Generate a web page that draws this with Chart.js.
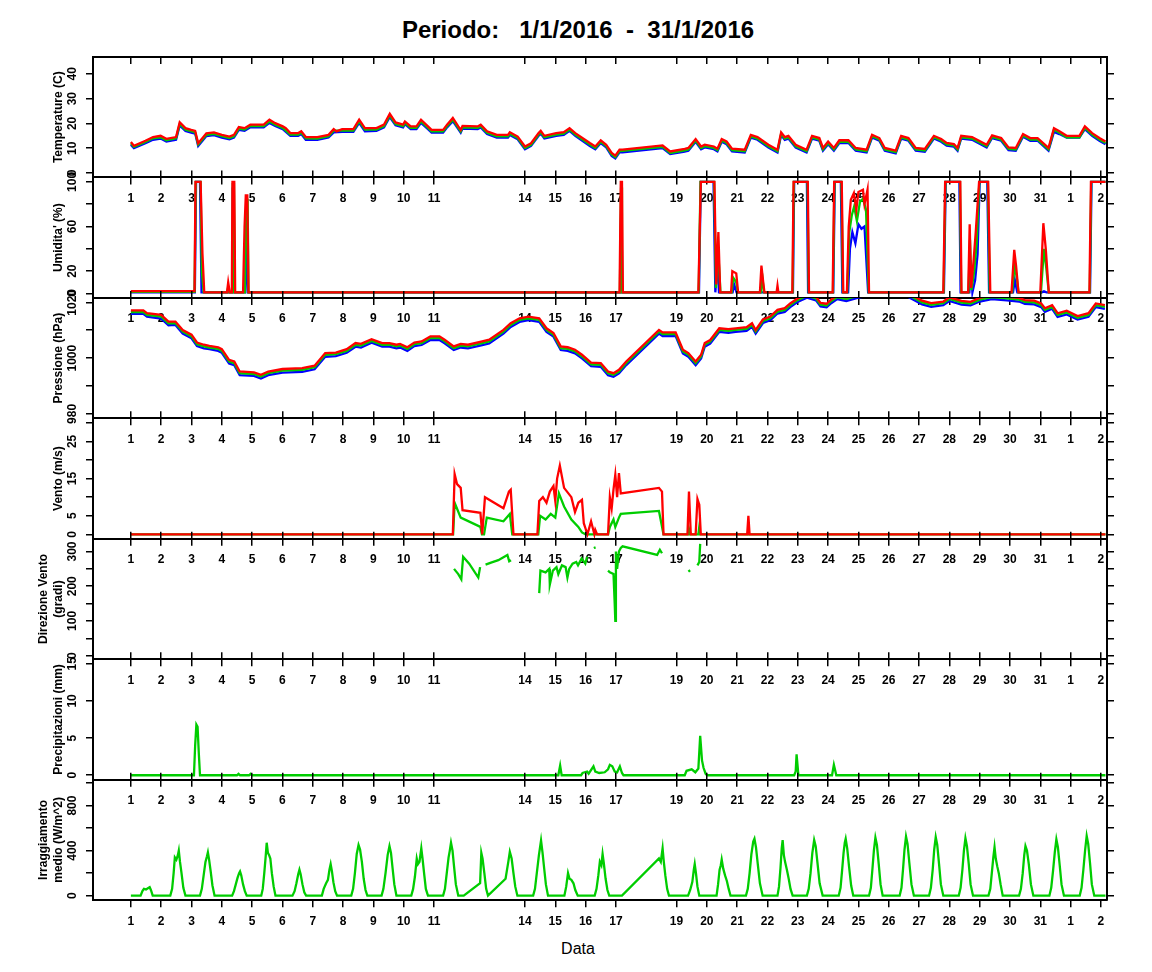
<!DOCTYPE html>
<html>
<head>
<meta charset="utf-8">
<script src="https://cdn.jsdelivr.net/npm/chart.js@4.4.1/dist/chart.umd.min.js"></script>
<style>
  html, body { margin: 0; padding: 0; background: #fff; }
  #page { position: relative; width: 1152px; height: 972px; overflow: hidden; background: #fff; }
  #page canvas { position: absolute; left: 0; }
  .txt { position: absolute; left: 0; width: 1156px; text-align: center; white-space: pre; line-height: 1;
         font-family: "Liberation Sans", Arial, Helvetica, sans-serif; color: #000; }
  #title { top: 18px; font-size: 24px; font-weight: bold; }
  #xtitle { top: 941px; font-size: 16px; }
</style>
</head>
<body>
<div id="page">
  <div id="title" class="txt">Periodo:   1/1/2016  -  31/1/2016</div>
  <div id="xtitle" class="txt">Data</div>
</div>
<script>
// =========================
//  Data (x = days since 1/1/2016 00:00)
// =========================

const dayTicks = [0,1,2,3,4,5,6,7,8,9,10,13,14,15,16,18,19,20,21,22,23,24,25,26,27,28,29,30,31,32];
const dayLabels = ['1','2','3','4','5','6','7','8','9','10','11','14','15','16','17','19','20','21','22','23','24','25','26','27','28','29','30','31','1','2'];

const tempRed = [[0,12.5],[0.1,11],[0.48,13],[0.73,14.5],[0.98,15],[1.17,13.8],[1.49,14.5],[1.61,20.5],[1.8,18.1],[1.99,17.4],[2.12,17],[2.22,12],[2.49,16],[2.74,16.4],[3.0,15.4],[3.25,14.7],[3.4,15.4],[3.56,18.5],[3.75,18.1],[3.94,19.5],[4.38,19.5],[4.57,21.5],[4.76,20.1],[5.01,18.8],[5.11,18.1],[5.26,16.1],[5.52,16.1],[5.62,16.8],[5.77,14.5],[6.15,14.5],[6.52,15.4],[6.69,17.7],[6.78,16.8],[6.97,17.7],[7.34,17.7],[7.53,21.5],[7.72,18.1],[8.1,18.1],[8.35,19.5],[8.54,23.9],[8.73,20.4],[8.98,19.5],[9.04,20.8],[9.23,18.8],[9.42,18.8],[9.57,21.5],[9.8,18.8],[9.92,17.4],[10.3,17.4],[10.43,19.5],[10.62,22.2],[10.8,18.8],[10.88,17.4],[10.94,19],[11.44,18.8],[11.54,19.5],[11.75,16.8],[12.07,15.4],[12.44,15.4],[12.5,16.4],[12.76,14.7],[13.0,10.7],[13.2,12],[13.45,16.1],[13.52,17],[13.64,15],[14.03,16.1],[14.28,16.5],[14.47,18.1],[14.66,16.1],[15.14,12.1],[15.32,10.7],[15.5,13.2],[15.68,11.4],[15.86,8.1],[15.98,7.0],[16.12,9.4],[16.22,9.4],[17.54,11.1],[17.79,8.7],[18.27,9.7],[18.39,10.1],[18.63,13.7],[18.81,10.7],[18.93,11.4],[19.23,10.7],[19.35,9.8],[19.49,13.7],[19.65,12.7],[19.83,9.8],[20.25,9.4],[20.45,15.4],[20.67,14.5],[21.03,11.4],[21.33,9.4],[21.45,16.4],[21.57,14.5],[21.69,15],[21.93,11.4],[22.29,9.4],[22.47,15.0],[22.71,14.1],[22.83,10.1],[23.0,12.7],[23.19,10.1],[23.37,13.2],[23.67,13.2],[23.91,10.1],[24.27,9.4],[24.45,15.4],[24.69,14.1],[24.87,10.1],[25.23,9.0],[25.41,15.0],[25.65,14.1],[25.89,10.1],[26.19,9.7],[26.49,15.0],[26.73,13.7],[26.91,12.1],[27.15,11.7],[27.27,10.1],[27.39,15.0],[27.75,14.5],[28.23,11.4],[28.41,15.2],[28.71,14.1],[28.95,10.3],[29.19,10.1],[29.43,15.7],[29.67,14.1],[29.91,14.1],[30.27,10.1],[30.45,18.1],[30.63,16.8],[30.87,15.0],[31.29,15.0],[31.47,18.8],[31.71,16.1],[31.95,14.1],[32.15,12.7]];
const tempGreen = [[0,12],[0.1,10.5],[0.48,12.5],[0.73,14],[0.98,14.4],[1.17,13.2],[1.49,14],[1.61,19.8],[1.8,17.5],[1.99,16.9],[2.12,16.4],[2.22,11.5],[2.49,15.4],[2.74,15.8],[3.0,14.9],[3.25,14.1],[3.4,14.8],[3.56,17.9],[3.75,17.5],[3.94,19],[4.38,18.9],[4.57,20.8],[4.76,19.5],[5.01,18.2],[5.26,15.5],[5.52,15.5],[5.62,16.2],[5.77,14],[6.15,13.9],[6.52,14.8],[6.69,17.1],[6.97,17.1],[7.34,17.1],[7.53,20.8],[7.72,17.5],[8.1,17.5],[8.35,18.9],[8.54,23.2],[8.73,19.8],[8.98,18.9],[9.04,20.2],[9.23,18.2],[9.42,18.2],[9.57,20.8],[9.8,18.2],[9.92,16.8],[10.3,16.8],[10.43,18.9],[10.62,21.5],[10.8,18.2],[10.88,16.8],[10.94,18.4],[11.44,18.2],[11.54,18.9],[11.75,16.2],[12.07,14.8],[12.44,14.8],[12.5,15.8],[12.76,14.1],[13.0,10.1],[13.2,11.4],[13.45,15.5],[13.52,16.4],[13.64,14.4],[14.03,15.5],[14.28,15.9],[14.47,17.5],[14.66,15.5],[15.14,11.5],[15.32,10.1],[15.5,12.6],[15.68,10.8],[15.86,7.5],[15.98,6.4],[16.12,8.8],[16.22,8.9],[17.54,10.5],[17.79,8.1],[18.27,9.1],[18.39,9.5],[18.63,13.1],[18.81,10.1],[18.93,10.8],[19.23,10.1],[19.35,9.2],[19.49,13.1],[19.65,12.1],[19.83,9.2],[20.25,8.8],[20.45,14.8],[20.67,13.9],[21.03,10.8],[21.33,8.8],[21.45,15.8],[21.57,13.9],[21.69,14.4],[21.93,10.8],[22.29,8.8],[22.47,14.4],[22.71,13.5],[22.83,9.5],[23.0,12.1],[23.19,9.5],[23.37,12.6],[23.67,12.6],[23.91,9.5],[24.27,8.8],[24.45,14.8],[24.69,13.5],[24.87,9.5],[25.23,8.4],[25.41,14.4],[25.65,13.5],[25.89,9.5],[26.19,9.1],[26.49,14.4],[26.73,13.1],[26.91,11.5],[27.15,11.1],[27.27,9.5],[27.39,14.4],[27.75,13.9],[28.23,10.8],[28.41,14.6],[28.71,13.5],[28.95,9.7],[29.19,9.5],[29.43,15.1],[29.67,13.5],[29.91,13.5],[30.27,9.5],[30.45,17.5],[30.63,16.2],[30.87,14.4],[31.29,14.4],[31.47,18.2],[31.71,15.5],[31.95,13.5],[32.15,12.1]];
const tempBlue = [[0,11.4],[0.1,10],[0.48,12],[0.73,13.4],[0.98,13.9],[1.17,12.7],[1.49,13.4],[1.61,19.2],[1.8,17],[1.99,16.3],[2.12,15.9],[2.22,10.9],[2.49,14.9],[2.74,15.3],[3.0,14.3],[3.25,13.6],[3.4,14.3],[3.56,17.4],[3.75,17],[3.94,18.4],[4.38,18.4],[4.57,20.2],[4.76,19],[5.01,17.7],[5.26,15],[5.52,15],[5.62,15.7],[5.77,13.4],[6.15,13.4],[6.52,14.3],[6.69,16.4],[6.97,16.6],[7.34,16.6],[7.53,20.2],[7.72,16.8],[8.1,17],[8.35,18.4],[8.54,22.6],[8.73,19.3],[8.98,18.4],[9.04,19.7],[9.23,17.7],[9.42,17.7],[9.57,20.2],[9.8,17.7],[9.92,16.3],[10.3,16.3],[10.43,18.4],[10.62,20.9],[10.8,17.7],[10.88,16.3],[10.94,17.9],[11.44,17.7],[11.54,18.4],[11.75,15.7],[12.07,14.3],[12.44,14.3],[12.5,15.3],[12.76,13.6],[13.0,9.6],[13.2,10.9],[13.45,15],[13.52,15.9],[13.64,13.9],[14.03,15],[14.28,15.4],[14.47,17],[14.66,15],[15.14,10.9],[15.32,9.6],[15.5,12.1],[15.68,10.3],[15.86,6.9],[15.98,5.9],[16.12,8.3],[16.22,8.3],[17.54,10],[17.79,7.6],[18.27,8.6],[18.39,9],[18.63,12.6],[18.81,9.6],[18.93,10.3],[19.23,9.6],[19.35,8.7],[19.49,12.6],[19.65,11.6],[19.83,8.7],[20.25,8.3],[20.45,14.3],[20.67,13.4],[21.03,10.3],[21.33,8.3],[21.45,15.3],[21.57,13.4],[21.69,13.9],[21.93,10.3],[22.29,8.3],[22.47,13.9],[22.71,13],[22.83,9],[23.0,11.6],[23.19,9],[23.37,12.1],[23.67,12.1],[23.91,9],[24.27,8.3],[24.45,14.3],[24.69,13],[24.87,9],[25.23,7.9],[25.41,13.9],[25.65,13],[25.89,9],[26.19,8.6],[26.49,13.9],[26.73,12.6],[26.91,11],[27.15,10.6],[27.27,9],[27.39,13.9],[27.75,13.4],[28.23,10.3],[28.41,14.1],[28.71,13],[28.95,9.2],[29.19,9],[29.43,14.6],[29.67,13],[29.91,13],[30.27,9],[30.45,16.6],[30.63,15.7],[30.87,14.3],[31.29,14.3],[31.47,17.7],[31.71,15],[31.95,13],[32.15,11.6]];

const humRed = [[0,2],[2.1,2],[2.13,100],[2.3,100],[2.36,36],[2.42,1],[3.17,1],[3.21,10],[3.26,1],[3.33,1],[3.35,100],[3.41,100],[3.44,1],[3.7,1],[3.75,60],[3.79,88],[3.84,88],[3.88,1],[16.12,1],[16.16,100],[16.2,100],[16.23,1],[18.72,1],[18.8,100],[19.25,100],[19.31,8],[19.38,55],[19.44,1],[19.8,1],[19.84,20],[19.97,18],[20.03,1],[20.75,1],[20.8,25],[20.86,10],[20.9,1],[21.3,1],[21.33,7],[21.36,1],[21.82,1],[21.86,100],[22.33,100],[22.37,1],[23.15,1],[23.2,100],[23.45,100],[23.5,1],[23.62,1],[23.68,60],[23.75,84],[23.85,90],[23.93,75],[24.0,91],[24.15,93],[24.2,80],[24.3,93],[24.35,1],[26.8,1],[26.86,100],[27.36,100],[27.4,1],[27.62,1],[27.67,62],[27.72,5],[27.8,30],[27.87,55],[27.98,100],[28.28,100],[28.35,1],[29.05,1],[29.14,39],[29.2,25],[29.28,1],[30.0,1],[30.1,63],[30.18,40],[30.28,1],[31.62,1],[31.67,100],[32.15,100]];
const humGreen = [[0,1.5],[2.1,1.5],[2.14,100],[2.3,100],[2.34,20],[2.4,1],[3.18,1],[3.21,6],[3.25,1],[3.34,1],[3.36,98],[3.4,98],[3.43,1],[3.76,1],[3.8,60],[3.85,85],[3.88,1],[16.13,1],[16.17,95],[16.2,1],[18.73,1],[18.79,100],[19.24,100],[19.3,5],[19.37,40],[19.45,1],[19.82,1],[19.87,14],[19.97,10],[20.02,1],[20.78,1],[20.82,18],[20.88,1],[21.83,1],[21.87,100],[22.32,100],[22.36,1],[23.16,1],[23.21,100],[23.44,100],[23.49,1],[23.63,1],[23.7,55],[23.78,70],[23.86,78],[23.95,65],[24.05,82],[24.15,85],[24.25,75],[24.34,1],[26.81,1],[26.87,100],[27.35,100],[27.39,1],[27.63,1],[27.68,48],[27.73,3],[27.82,20],[27.9,45],[27.99,100],[28.27,100],[28.33,1],[29.07,1],[29.15,25],[29.22,15],[29.28,1],[30.02,1],[30.12,40],[30.2,22],[30.28,1],[31.63,1],[31.68,100],[32.15,100]];
const humBlue = [[0,1],[2.11,1],[2.15,100],[2.28,100],[2.33,1],[3.34,1],[3.36,95],[3.39,1],[3.77,1],[3.81,50],[3.86,1],[16.14,1],[16.18,90],[16.21,1],[18.74,1],[18.8,100],[19.22,100],[19.28,1],[19.35,30],[19.4,1],[19.85,1],[19.9,8],[19.98,1],[21.84,1],[21.88,100],[22.3,100],[22.34,1],[23.17,1],[23.22,100],[23.42,100],[23.47,1],[23.66,1],[23.72,40],[23.8,55],[23.9,45],[24.0,62],[24.1,58],[24.2,60],[24.32,1],[26.82,1],[26.88,100],[27.33,100],[27.37,1],[27.66,1],[27.7,30],[27.76,1],[27.85,12],[27.93,35],[28.0,100],[28.25,100],[28.31,1],[29.1,1],[29.16,12],[29.24,1],[30.05,1],[30.12,2],[30.2,1],[31.64,1],[31.69,100],[32.15,100]];

const presRed = [[0,1017.1],[0.41,1017.1],[0.53,1016.1],[1.0,1015.5],[1.24,1013.1],[1.47,1013.1],[1.71,1010.1],[2.0,1008.4],[2.18,1005.6],[2.41,1004.8],[2.59,1004.4],[2.88,1003.9],[3.0,1003.2],[3.24,999.4],[3.41,998.8],[3.59,995.2],[4.06,994.9],[4.29,994.0],[4.53,995.2],[5.0,996.1],[5.65,996.4],[6.06,997.3],[6.41,1001.8],[6.76,1002.0],[7.12,1003.2],[7.41,1005.4],[7.59,1005.1],[7.94,1006.8],[8.29,1005.4],[8.53,1005.4],[8.76,1004.8],[8.88,1005.1],[9.12,1003.9],[9.35,1005.6],[9.59,1006.0],[9.88,1007.8],[10.18,1007.8],[10.35,1006.6],[10.65,1004.2],[10.88,1005.1],[11.12,1004.8],[11.59,1006.0],[11.82,1006.6],[12.29,1010.1],[12.53,1012.5],[12.82,1014.3],[13.12,1014.9],[13.47,1014.3],[13.71,1010.7],[13.94,1009.0],[14.18,1004.2],[14.41,1003.9],[14.65,1003.0],[14.88,1001.2],[15.18,998.4],[15.5,998.2],[15.74,995.2],[15.92,994.6],[16.1,995.8],[16.34,998.8],[17.42,1010.1],[17.54,1009.2],[17.97,1009.2],[18.21,1003.0],[18.39,1001.8],[18.63,998.8],[18.81,1001.2],[18.93,1005.4],[19.11,1006.5],[19.41,1010.7],[19.71,1010.4],[19.95,1010.7],[20.31,1011.1],[20.49,1012.5],[20.61,1010.1],[20.85,1013.9],[21.09,1014.9],[21.33,1017.3],[21.57,1017.9],[21.75,1019.6],[21.99,1021.4],[22.3,1023],[22.6,1022],[22.75,1019.8],[22.95,1019.5],[23.1,1021],[23.3,1022.5],[23.6,1021.8],[24.0,1023],[24.5,1024],[25.0,1024.5],[25.6,1023.5],[26.1,1020.6],[26.4,1019.7],[26.8,1020.3],[27.0,1021.8],[27.4,1020.5],[27.7,1020.2],[28.0,1021.6],[28.4,1022.5],[28.9,1022],[29.3,1021.6],[29.49,1020.8],[29.8,1020.6],[30.03,1019.6],[30.15,1017.9],[30.39,1019.0],[30.57,1016.1],[30.87,1017],[31.23,1015.1],[31.59,1016.1],[31.83,1019.6],[32.13,1019.0]];
const presGreen = [[0,1016.5],[0.41,1016.5],[0.53,1015.5],[1.0,1014.9],[1.24,1012.5],[1.47,1012.5],[1.71,1009.5],[2.0,1007.8],[2.18,1005],[2.41,1004.2],[2.59,1003.8],[2.88,1003.3],[3.0,1002.6],[3.24,998.8],[3.41,998.2],[3.59,994.6],[4.06,994.3],[4.29,993.4],[4.53,994.6],[5.0,995.5],[5.65,995.8],[6.06,996.7],[6.41,1001.2],[6.76,1001.4],[7.12,1002.6],[7.41,1004.8],[7.59,1004.5],[7.94,1006.2],[8.29,1004.8],[8.53,1004.8],[8.76,1004.2],[8.88,1004.5],[9.12,1003.3],[9.35,1005],[9.59,1005.4],[9.88,1007.2],[10.18,1007.2],[10.35,1006],[10.65,1003.6],[10.88,1004.5],[11.12,1004.2],[11.59,1005.4],[11.82,1006],[12.29,1009.5],[12.53,1011.9],[12.82,1013.7],[13.12,1014.3],[13.47,1013.7],[13.71,1010.1],[13.94,1008.4],[14.18,1003.6],[14.41,1003.3],[14.65,1002.4],[14.88,1000.6],[15.18,997.8],[15.5,997.6],[15.74,994.6],[15.92,994],[16.1,995.2],[16.34,998.2],[17.42,1009.5],[17.54,1008.6],[17.97,1008.6],[18.21,1002.4],[18.39,1001.2],[18.63,998.2],[18.81,1000.6],[18.93,1004.8],[19.11,1005.9],[19.41,1010.1],[19.71,1009.8],[19.95,1010.1],[20.31,1010.5],[20.49,1011.9],[20.61,1009.5],[20.85,1013.3],[21.09,1014.3],[21.33,1016.7],[21.57,1017.3],[21.75,1019],[21.99,1020.8],[22.3,1022.4],[22.6,1021.4],[22.75,1019.2],[22.95,1018.9],[23.1,1020.4],[23.3,1021.9],[23.6,1021.2],[24.0,1022.4],[24.5,1023.4],[25.0,1023.9],[25.6,1022.9],[26.1,1020],[26.4,1019.1],[26.8,1019.7],[27.0,1021.2],[27.4,1019.9],[27.7,1019.6],[28.0,1021],[28.4,1021.9],[28.9,1021.4],[29.3,1021],[29.49,1020.2],[29.8,1020],[30.03,1019],[30.15,1017.3],[30.39,1018.4],[30.57,1015.5],[30.87,1016.4],[31.23,1014.5],[31.59,1015.5],[31.83,1019],[32.13,1018.4]];
const presBlue = [[0,1015.9],[0.41,1015.9],[0.53,1014.9],[1.0,1014.2],[1.24,1011.8],[1.47,1011.9],[1.71,1008.8],[2.0,1007.1],[2.18,1004.3],[2.41,1003.5],[2.59,1003.2],[2.88,1002.6],[3.0,1001.9],[3.24,998.1],[3.41,997.5],[3.59,993.9],[4.06,993.6],[4.29,992.7],[4.53,993.9],[5.0,994.8],[5.65,995.1],[6.06,996],[6.41,1000.5],[6.76,1000.7],[7.12,1001.9],[7.41,1004.1],[7.59,1003.8],[7.94,1005.5],[8.29,1004.1],[8.53,1004.1],[8.76,1003.5],[8.88,1003.8],[9.12,1002.6],[9.35,1004.3],[9.59,1004.7],[9.88,1006.5],[10.18,1006.5],[10.35,1005.3],[10.65,1002.9],[10.88,1003.8],[11.12,1003.5],[11.59,1004.7],[11.82,1005.3],[12.29,1008.8],[12.53,1011.2],[12.82,1013],[13.12,1013.6],[13.47,1013],[13.71,1009.4],[13.94,1007.7],[14.18,1002.9],[14.41,1002.6],[14.65,1001.7],[14.88,999.9],[15.18,997.1],[15.5,996.9],[15.74,993.9],[15.92,993.3],[16.1,994.5],[16.34,997.5],[17.42,1008.8],[17.54,1007.9],[17.97,1007.9],[18.21,1001.7],[18.39,1000.5],[18.63,997.5],[18.81,999.9],[18.93,1004.1],[19.11,1005.2],[19.41,1009.4],[19.71,1009.1],[19.95,1009.4],[20.31,1009.8],[20.49,1011.2],[20.61,1008.8],[20.85,1012.6],[21.09,1013.6],[21.33,1016],[21.57,1016.6],[21.75,1018.3],[21.99,1020.1],[22.3,1021.7],[22.6,1020.7],[22.75,1018.5],[22.95,1018.2],[23.1,1019.7],[23.3,1021.2],[23.6,1020.5],[24.0,1021.7],[24.5,1022.7],[25.0,1023.2],[25.6,1022.2],[26.1,1019.3],[26.4,1018.4],[26.8,1019],[27.0,1020.5],[27.4,1019.2],[27.7,1018.9],[28.0,1020.3],[28.4,1021.2],[28.9,1020.7],[29.3,1020.3],[29.49,1019.5],[29.8,1019.3],[30.03,1018.3],[30.15,1016.6],[30.39,1017.7],[30.57,1014.8],[30.87,1015.7],[31.23,1013.8],[31.59,1014.8],[31.83,1018.3],[32.13,1017.7]];

const ventoRed = [[0,0],[10.62,0],[10.68,16.2],[10.76,13.5],[10.88,12.5],[10.94,6.5],[11.53,5.8],[11.59,0],[11.68,10],[12.29,7],[12.47,11.5],[12.53,12],[12.62,0],[13.41,0],[13.47,9],[13.59,10],[13.71,8.5],[13.82,11.5],[13.94,13],[14.0,9],[14.06,15],[14.15,18.5],[14.29,12.5],[14.53,10],[14.65,6],[14.76,8.5],[14.88,9.3],[14.94,3],[15.0,1.5],[15.06,0],[15.18,3.5],[15.29,0],[15.32,1.2],[15.38,0],[15.74,0],[15.8,10],[15.86,7],[15.92,12],[15.98,16],[16.04,10],[16.1,16.5],[16.16,11],[17.42,12.5],[17.52,11.5],[17.57,0],[18.36,0],[18.41,11.5],[18.47,0],[18.63,0],[18.69,9.5],[18.75,8],[18.8,0],[20.33,0],[20.37,5],[20.41,0],[32.15,0]];
const ventoGreen = [[0,0],[10.63,0],[10.68,8.5],[10.88,4.5],[11.53,2],[11.58,0],[11.65,0],[11.74,4.5],[12.29,3.5],[12.5,5.5],[12.58,0],[13.44,0],[13.5,5],[13.68,4],[13.85,5.5],[14.0,4.5],[14.12,11],[14.29,7.5],[14.53,4],[14.76,2],[14.88,0.5],[15.0,0],[15.74,0],[15.8,2],[15.92,4],[15.98,2],[16.1,4.5],[16.16,5.5],[17.42,6.3],[17.57,0],[18.39,0],[18.41,1.5],[18.47,0],[18.72,0],[18.75,2],[18.78,0],[32.15,0]];

const direzione = [[10.66,250],[10.8,235],[10.9,220],[10.96,285],[11.16,265],[11.46,225],[11.52,255],[11.6,null],[11.7,262],[11.88,268],[12.12,275],[12.42,290],[12.48,272],[12.54,275],[13.0,null],[13.47,180],[13.51,245],[13.68,240],[13.8,250],[13.82,205],[13.92,245],[14.04,255],[14.1,235],[14.22,260],[14.34,255],[14.4,225],[14.46,250],[14.57,265],[14.69,270],[14.75,260],[14.87,280],[14.99,265],[15.05,285],[15.15,null],[15.27,310],[15.33,312],[15.5,null],[15.74,245],[15.8,240],[15.92,235],[15.96,150],[15.98,100],[16.0,300],[16.04,250],[16.1,300],[16.16,310],[16.22,315],[17.36,290],[17.45,305],[17.52,295],[18.0,null],[18.39,242],[18.45,246],[18.55,null],[18.69,260],[18.75,270],[18.78,322]];

const precip = [[0,0],[2.08,0],[2.12,4],[2.16,6.8],[2.2,6.5],[2.24,3],[2.28,0],[3.5,0],[3.55,0.2],[3.6,0],[3.9,0],[3.95,0.2],[4.0,0],[14.1,0],[14.16,1.3],[14.21,0],[14.85,0],[14.9,0.3],[15.05,0.5],[15.1,0.2],[15.26,1.2],[15.32,0.5],[15.45,0.3],[15.63,0.4],[15.74,0.8],[15.8,1.4],[15.88,1.2],[15.96,0.5],[16.04,0.4],[16.13,1.2],[16.2,0.3],[16.25,0],[18.27,0],[18.33,0.6],[18.5,0.8],[18.62,0.4],[18.72,0.9],[18.78,5.3],[18.84,2],[18.89,1],[18.96,0.2],[19.01,0],[21.88,0],[21.93,0.5],[21.96,2.8],[22.02,0],[23.13,0],[23.19,1.4],[23.27,0],[32.15,0]];

const irraggiamento = [[0,0],[0.32,0],[0.38,40],[0.43,60],[0.5,55],[0.56,65],[0.62,75],[0.66,50],[0.72,0],
  [1.3,0],[1.36,60],[1.41,200],[1.45,340],[1.5,320],[1.55,360],[1.58,400],[1.62,300],[1.67,200],[1.73,70],[1.8,0],
  [2.28,0],[2.34,60],[2.4,180],[2.46,300],[2.51,350],[2.54,385],[2.58,320],[2.63,220],[2.69,90],[2.76,0],
  [3.34,0],[3.4,40],[3.46,100],[3.52,160],[3.57,200],[3.6,215],[3.64,180],[3.7,100],[3.76,40],[3.82,0],
  [4.3,0],[4.35,60],[4.4,200],[4.45,360],[4.48,470],[4.52,380],[4.56,360],[4.6,330],[4.65,200],[4.71,80],[4.77,0],
  [5.33,0],[5.4,40],[5.46,110],[5.52,190],[5.56,230],[5.6,190],[5.66,100],[5.72,30],[5.78,0],
  [6.3,0],[6.36,60],[6.44,110],[6.5,140],[6.55,230],[6.59,280],[6.63,220],[6.68,120],[6.74,40],[6.8,0],
  [7.27,0],[7.33,60],[7.39,200],[7.45,370],[7.51,450],[7.56,410],[7.62,300],[7.68,150],[7.74,50],[7.8,0],
  [8.27,0],[8.33,60],[8.4,200],[8.47,360],[8.53,440],[8.58,380],[8.63,250],[8.69,100],[8.76,0],
  [9.25,0],[9.31,60],[9.37,170],[9.43,330],[9.47,280],[9.52,300],[9.58,420],[9.62,330],[9.68,180],[9.73,60],[9.8,0],
  [10.3,0],[10.36,60],[10.42,200],[10.48,340],[10.52,400],[10.56,470],[10.61,400],[10.66,260],[10.72,100],[10.8,0],
  [10.98,0],[11.52,110],[11.56,380],[11.6,330],[11.66,200],[11.72,60],[11.78,0],
  [12.36,150],[12.45,300],[12.5,390],[12.56,330],[12.62,200],[12.68,80],[12.75,0],
  [13.27,0],[13.33,60],[13.39,200],[13.46,360],[13.53,490],[13.58,380],[13.63,250],[13.69,100],[13.76,0],
  [14.3,0],[14.36,80],[14.42,200],[14.47,150],[14.53,140],[14.6,110],[14.66,50],[14.74,0],
  [15.3,0],[15.36,60],[15.42,180],[15.47,300],[15.52,270],[15.56,370],[15.6,290],[15.66,150],[15.72,50],[15.78,0],
  [16.2,0],[17.42,330],[17.48,300],[17.54,420],[17.58,300],[17.63,180],[17.69,60],[17.75,0],
  [18.38,0],[18.45,50],[18.52,120],[18.57,230],[18.6,280],[18.64,200],[18.69,80],[18.75,0],
  [19.32,0],[19.37,100],[19.42,230],[19.46,270],[19.49,320],[19.54,240],[19.6,180],[19.66,130],[19.72,60],[19.78,0],
  [20.29,0],[20.35,60],[20.41,200],[20.47,370],[20.53,480],[20.57,505],[20.62,430],[20.68,280],[20.75,110],[20.84,0],
  [21.33,0],[21.38,80],[21.43,250],[21.47,420],[21.5,494],[21.54,360],[21.58,300],[21.64,230],[21.7,150],[21.76,60],[21.83,0],
  [22.3,0],[22.36,60],[22.42,200],[22.48,380],[22.54,494],[22.59,440],[22.65,290],[22.72,110],[22.82,0],
  [23.35,0],[23.41,70],[23.46,220],[23.51,380],[23.55,470],[23.58,505],[23.63,420],[23.69,260],[23.76,90],[23.83,0],
  [24.35,0],[24.41,70],[24.46,230],[24.51,400],[24.56,515],[24.61,450],[24.67,280],[24.73,100],[24.8,0],
  [25.36,0],[25.42,70],[25.47,230],[25.52,410],[25.57,525],[25.62,460],[25.68,290],[25.75,100],[25.83,0],
  [26.33,0],[26.39,70],[26.45,230],[26.5,410],[26.55,520],[26.6,450],[26.66,280],[26.72,100],[26.8,0],
  [27.31,0],[27.37,70],[27.43,230],[27.48,400],[27.53,510],[27.58,440],[27.64,280],[27.7,100],[27.78,0],
  [28.29,0],[28.35,60],[28.4,200],[28.45,340],[28.49,430],[28.53,330],[28.58,260],[28.63,200],[28.69,100],[28.76,0],
  [29.3,0],[29.36,60],[29.42,200],[29.47,360],[29.51,440],[29.56,400],[29.62,280],[29.69,100],[29.77,0],
  [30.3,0],[30.36,70],[30.42,220],[30.48,390],[30.53,500],[30.58,430],[30.64,270],[30.7,100],[30.78,0],
  [31.3,0],[31.36,70],[31.42,230],[31.48,410],[31.53,530],[31.58,460],[31.64,290],[31.7,100],[31.78,0],
  [32.15,0]];

const RED = '#ff0000', GREEN = '#00cd00', BLUE = '#0000ff';
const FONT = '"Liberation Sans", Arial, Helvetica, sans-serif';

// panel settings: y range, ticks, labelled ticks, title, series (listed first = drawn on top)
const panels = [
  { title: 'Temperature (C)', min: -1.8, max: 46.8, ticks: [0,10,20,30,40], labels: [0,10,20,30,40],
    series: [[tempRed, RED], [tempGreen, GREEN], [tempBlue, BLUE]] },
  { title: "Umidita' (%)", min: -4, max: 104, ticks: [0,20,40,60,80,100], labels: [0,20,60,100],
    series: [[humRed, RED], [humGreen, GREEN], [humBlue, BLUE]] },
  { title: 'Pressione (hPa)', min: 978.4, max: 1021.6, ticks: [980,990,1000,1010,1020], labels: [980,1000,1020],
    series: [[presRed, RED], [presGreen, GREEN], [presBlue, BLUE]] },
  { title: 'Vento (m/s)', min: -1.2, max: 31.2, ticks: [0,5,10,15,20,25,30], labels: [0,5,15,25],
    series: [[ventoRed, RED], [ventoGreen, GREEN]] },
  { title: ['Direzione Vento', '(gradi)'], min: -10.4, max: 336.6, ticks: [0,50,100,150,200,250,300], labels: [0,100,200,300],
    series: [[direzione, GREEN]] },
  { title: 'Precipitazioni (mm)', min: -0.6, max: 15.6, ticks: [0,5,10,15], labels: [0,5,10,15],
    series: [[precip, GREEN]] },
  { title: ['Irraggiamento', 'medio (W/m^2)'], min: -40, max: 1030, ticks: [0,200,400,600,800,1000], labels: [0,400,800],
    series: [[irraggiamento, GREEN]] },
];

// =========================
//  Rotated y tick labels
// =========================

const yLabelPlugin = {
  id: 'yLabels',
  afterDraw(chart) {
    const opt = chart.options.plugins.yLabels;
    const s = chart.scales.y;
    const ctx = chart.ctx;
    ctx.save();
    ctx.font = 'bold 12px ' + FONT;
    ctx.fillStyle = '#000';
    ctx.textAlign = 'center';
    ctx.textBaseline = 'middle';
    for (const v of opt.labels) {
      ctx.save();
      ctx.translate(opt.x, s.getPixelForValue(v));
      ctx.rotate(-Math.PI / 2);
      ctx.fillText(String(v), 0, 0);
      ctx.restore();
    }
    ctx.restore();
  }
};

// =========================
//  Panels
// =========================

const page = document.getElementById('page');
const PANEL_H = 120.45;

function makePanel(i, p) {
  const T = 57 + PANEL_H * i;
  const top = Math.round(T) - 20;
  const last = i === panels.length - 1;
  const h = last ? 972 - top : 190;
  const topH = T - top;
  const botH = h - topH - PANEL_H;

  const cv = document.createElement('canvas');
  cv.width = 1152;
  cv.height = h;
  cv.style.top = top + 'px';
  page.appendChild(cv);

  const setX = s => { s.ticks = dayTicks.map(v => ({ value: v })); };
  const setY = s => { s.ticks = p.ticks.map(v => ({ value: v })); };
  const grid = { drawOnChartArea: false, drawTicks: true, tickLength: 7, color: '#000', lineWidth: 1.5 };
  const border = { display: true, color: '#000', width: 2 };
  const twoLines = Array.isArray(p.title);

  new Chart(cv, {
    type: 'line',
    data: {
      datasets: p.series.map(([arr, col]) => ({
        data: arr.map(d => ({ x: d[0], y: d[1] })),
        borderColor: col,
        borderWidth: 2.3,
        pointRadius: 0,
        tension: 0,
        fill: false,
        spanGaps: false,
      })),
    },
    options: {
      responsive: false,
      animation: false,
      devicePixelRatio: 1,
      layout: { padding: 0 },
      events: [],
      plugins: {
        legend: { display: false },
        tooltip: { enabled: false },
        yLabels: { x: 72.7, labels: p.labels },
      },
      scales: {
        x: {
          type: 'linear', position: 'bottom', min: -1.25, max: 32.2,
          afterBuildTicks: setX,
          ticks: {
            autoSkip: false, maxRotation: 0, minRotation: 0, padding: 7, color: '#000',
            font: { family: FONT, size: 12, weight: 'bold' },
            callback: (v, idx) => dayLabels[idx],
          },
          grid: grid, border: border,
          afterFit: s => { s.height = botH; },
        },
        xt: {
          type: 'linear', axis: 'x', position: 'top', min: -1.25, max: 32.2,
          afterBuildTicks: setX,
          ticks: { display: false },
          grid: Object.assign({}, grid, { tickLength: i === 0 ? -7 : 7 }),
          border: border,
          afterFit: s => { s.height = topH; },
        },
        y: {
          type: 'linear', position: 'left', min: p.min, max: p.max,
          afterBuildTicks: setY,
          ticks: { display: false },
          grid: grid, border: border,
          title: {
            display: true, text: p.title, color: '#000',
            font: { family: FONT, size: 12, weight: 'bold', lineHeight: 1.2 },
            padding: { top: twoLines ? 36.8 : 51.3, bottom: 0 },
          },
          afterFit: s => { s.width = 93; },
        },
        yr: {
          type: 'linear', axis: 'y', position: 'right', min: p.min, max: p.max,
          afterBuildTicks: setY,
          ticks: { display: false },
          grid: grid, border: border,
          afterFit: s => { s.width = 45; },
        },
      },
    },
    plugins: [yLabelPlugin],
  });
}

panels.forEach((p, i) => makePanel(i, p));
</script>
</body>
</html>
